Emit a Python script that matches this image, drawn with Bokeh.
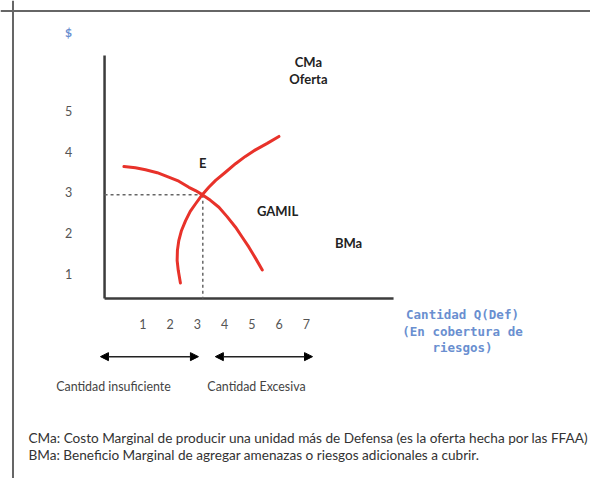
from bokeh.plotting import figure
from bokeh.models import Range1d, Label, Span, Arrow, NormalHead
from bokeh.embed import file_html
from bokeh.resources import INLINE
from bokeh.core.properties import value

# ---------------- data ----------------
x_ticks = [1, 2, 3, 4, 5, 6, 7]
x_tick_labels = ["1", "2", "3", "4", "5", "6", "7"]
y_ticks = [1, 2, 3, 4, 5]
y_tick_labels = ["1", "2", "3", "4", "5"]

# CMa (Oferta) curve: quantity, price
cma_q = [2.38, 2.30, 2.26, 2.27, 2.32, 2.42, 2.57, 2.74, 2.93, 3.18, 3.42, 3.67,
         4.03, 4.40, 4.76, 5.13, 5.56, 5.99]
cma_p = [0.77, 1.08, 1.32, 1.57, 1.81, 2.06, 2.30, 2.53, 2.71, 2.94, 3.12, 3.29,
         3.49, 3.70, 3.88, 4.04, 4.20, 4.37]
# BMa curve: quantity, price
bma_q = [0.31, 0.73, 1.10, 1.53, 1.95, 2.32, 2.69, 2.93, 3.18, 3.48, 3.79, 4.09,
         4.40, 4.64, 4.89, 5.13, 5.38]
bma_p = [3.63, 3.60, 3.55, 3.48, 3.37, 3.27, 3.12, 3.04, 2.94, 2.80, 2.63, 2.40,
         2.14, 1.90, 1.65, 1.38, 1.09]

eq_q = 3.2
eq_p = 2.94

footnote_1 = "CMa: Costo Marginal de producir una unidad más de Defensa (es la oferta hecha por las FFAA)"
footnote_2 = "BMa: Beneficio Marginal de agregar amenazas o riesgos adicionales a cubrir."

# ---------------- layout constants ----------------
AX_X = -0.40      # vertical axis location
AX_Y = 0.39       # horizontal axis location
AX_TOP = 6.36
AX_RIGHT = 10.19
RED = "#e8322a"
AXIS_COL = "#3c3c3c"
BLUE = "#6a8fd0"
FONT = "Lato"

p = figure(width=590, height=478,
           x_range=Range1d(-4.213, 17.407), y_range=Range1d(-4.034, 7.710),
           min_border=0, toolbar_location=None, output_backend="svg",
           x_axis_location=None, y_axis_location=None)
p.xgrid.visible = False
p.ygrid.visible = False
p.outline_line_color = None
p.background_fill_color = "white"
p.border_fill_color = "white"

# outer frame (left & top)
p.add_layout(Span(location=-3.755, dimension="height", line_color="#666666", line_width=2))
p.add_layout(Span(location=7.452, dimension="width", line_color="#666666", line_width=2))

# axes
p.line([AX_X, AX_X], [AX_Y, AX_TOP], line_color=AXIS_COL, line_width=2.5)
p.line([AX_X, AX_RIGHT], [AX_Y, AX_Y], line_color=AXIS_COL, line_width=2.5)

# tick labels
p.text(x=[AX_X - 1.32] * len(y_ticks), y=y_ticks, text=y_tick_labels,
       text_font=value(FONT), text_font_size="12.5px", text_color="#555555",
       text_align="center", text_baseline="middle")
p.text(x=x_ticks, y=[AX_Y - 0.64] * len(x_ticks), text=x_tick_labels,
       text_font=value(FONT), text_font_size="12.5px", text_color="#555555",
       text_align="center", text_baseline="middle")

# dashed equilibrium guides
p.line([AX_X, eq_q], [eq_p, eq_p], line_color="#666666", line_width=1.5, line_dash="3 3")
p.line([eq_q, eq_q], [eq_p, AX_Y], line_color="#666666", line_width=1.5, line_dash="3 3")

# curves
p.line(cma_q, cma_p, line_color=RED, line_width=3, line_cap="round", line_join="round")
p.line(bma_q, bma_p, line_color=RED, line_width=3, line_cap="round", line_join="round")

# labels
def blab(x, y, t, size="13px", color="#222222", bold=True, align="center",
         units="data", font=FONT):
    lab = Label(x=x, y=y, text=t, x_units=units, y_units=units,
                text_font=font, text_font_size=size, text_color=color,
                text_font_style="bold" if bold else "normal",
                text_align=align, text_baseline="middle")
    p.add_layout(lab)

blab(eq_q, 3.71, "E")
blab(7.07, 6.19, "CMa")
blab(7.07, 5.77, "Oferta")
blab(5.94, 2.55, "GAMIL")
blab(8.54, 1.76, "BMa")

# "$" and x-axis title (screen units)
blab(68, 446, "$", size="12px", color=BLUE, units="screen")
for i, t in enumerate(["Cantidad Q(Def)", "(En cobertura de", "riesgos)"]):
    blab(462, 164 - i * 16.5, t, size="12.5px", color=BLUE, units="screen",
         font="DejaVu Sans Mono")

# arrows
for xs, xe in [(-0.55, 3.04), (3.66, 7.22)]:
    p.add_layout(Arrow(x_start=xs, y_start=-1.04, x_end=xe, y_end=-1.04,
                       start=NormalHead(size=8, fill_color="black", line_color="black"),
                       end=NormalHead(size=8, fill_color="black", line_color="black"),
                       line_color="#222222", line_width=1.5))

blab(113, 92, "Cantidad insuficiente", size="12.4px", color="#444444", bold=False, units="screen")
blab(256, 92, "Cantidad Excesiva", size="12.4px", color="#444444", bold=False, units="screen")

blab(28, 41, footnote_1, size="13.6px", color="#333333", bold=False, align="left", units="screen")
blab(28, 24, footnote_2, size="13.6px", color="#333333", bold=False, align="left", units="screen")

open("out.html", "w").write(file_html(p, INLINE))
